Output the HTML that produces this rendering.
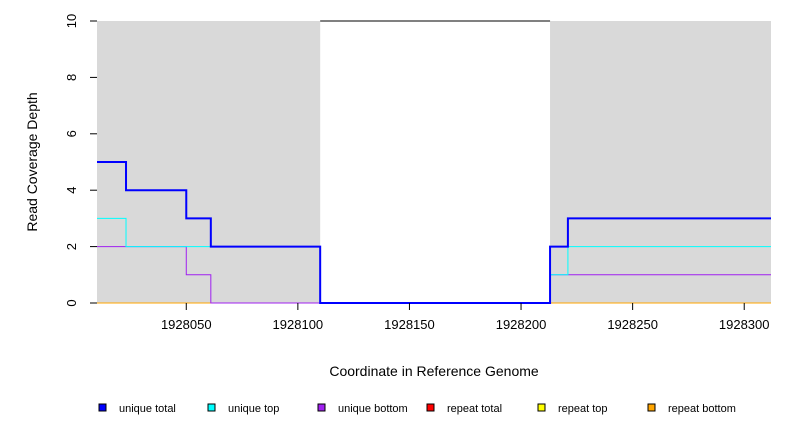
<!DOCTYPE html>
<html><head><meta charset="utf-8"><style>
body{margin:0;background:#fff}
svg{display:block;font-family:"Liberation Sans",sans-serif}
</style></head><body>
<svg id="c" width="792" height="432"></svg>
<script>
const xTicks=[1928050,1928100,1928150,1928200,1928250,1928300];
const yTicks=[0,2,4,6,8,10];
const grayRegions=[[1928010,1928110],[1928213,1928312]];
const uniqueTotalX=[1928010,1928023,1928050,1928061,1928110,1928213,1928221,1928312];
const uniqueTotalY=[5,4,3,2,0,2,3,3];
const uniqueTopX=[1928010,1928023,1928110,1928213,1928221,1928312];
const uniqueTopY=[3,2,0,1,2,2];
const uniqueBottomX=[1928010,1928050,1928061,1928213,1928312];
const uniqueBottomY=[2,1,0,1,1];
const repeatBottomX=[1928010,1928312];
const repeatBottomY=[0,0];
const legendLabels=["unique total","unique top","unique bottom","repeat total","repeat top","repeat bottom"];
const legendColors=["#0000ff","#00ffff","#a020f0","#ff0000","#ffff00","#ffa500"];
const legendX=[99,208,318,427,538,648];

const X0=1928010,X1=1928312,px0=97,px1=771,py0=303,py1=21;
const sx=v=>px0+(v-X0)*(px1-px0)/(X1-X0);
const sy=v=>py0-v*(py0-py1)/10;
const svg=document.getElementById('c');
const NS='http://www.w3.org/2000/svg';
function mk(t,a,p){const e=document.createElementNS(NS,t);for(const k in a)e.setAttribute(k,a[k]);(p||svg).appendChild(e);return e;}

grayRegions.forEach(r=>{
  const e=mk('rect',{x:sx(r[0]),y:py1,width:sx(r[1])-sx(r[0]),height:py0-py1,fill:'#d9d9d9'});
  
  
});
const topLine=mk('line',{x1:sx(grayRegions[0][1]),x2:sx(grayRegions[1][0]),y1:sy(10),y2:sy(10),stroke:'#000','stroke-width':1});



function step(xs,ys,color,w,name){
  let d='M'+sx(xs[0])+','+sy(ys[0]);
  for(let i=1;i<xs.length;i++){d+='H'+sx(xs[i])+'V'+sy(ys[i]);}
  const e=mk('path',{d:d,fill:'none',stroke:color,'stroke-width':w});
  
  
}
step(repeatBottomX,repeatBottomY,'#ffa500',1,'repeat-bottom-line');
step(uniqueBottomX,uniqueBottomY,'#a020f0',1,'unique-bottom-line');
step(uniqueTopX,uniqueTopY,'#00ffff',1,'unique-top-line');
step(uniqueTotalX,uniqueTotalY,'#0000ff',2,'unique-total-line');

xTicks.forEach(t=>{
  const tk=mk('line',{x1:sx(t),x2:sx(t),y1:py0,y2:py0+7,stroke:'#000'});
  
  
  const tx=mk('text',{x:sx(t),y:329,'font-size':13,'text-anchor':'middle'});
  tx.textContent=t;
  
  
});
yTicks.forEach(t=>{
  const tk=mk('line',{x1:px0-7,x2:px0,y1:sy(t),y2:sy(t),stroke:'#000'});
  
  
  const tx=mk('text',{x:0,y:0,'font-size':13,'text-anchor':'middle',transform:`translate(76,${sy(t)}) rotate(-90)`});
  tx.textContent=t;
  
  
});
const xt=mk('text',{x:434,y:376,'font-size':14,'text-anchor':'middle'});
xt.textContent='Coordinate in Reference Genome';


const yt=mk('text',{x:0,y:0,'font-size':14,'text-anchor':'middle',transform:'translate(37,162) rotate(-90)'});
yt.textContent='Read Coverage Depth';



legendLabels.forEach((l,i)=>{
  const g=mk('g',{});
  
  
  mk('rect',{x:legendX[i],y:404,width:7,height:7,fill:legendColors[i],stroke:'#000','stroke-width':1},g);
  const t=mk('text',{x:legendX[i]+20,y:412,'font-size':11},g);
  t.textContent=l;
});
</script>
</body></html>
